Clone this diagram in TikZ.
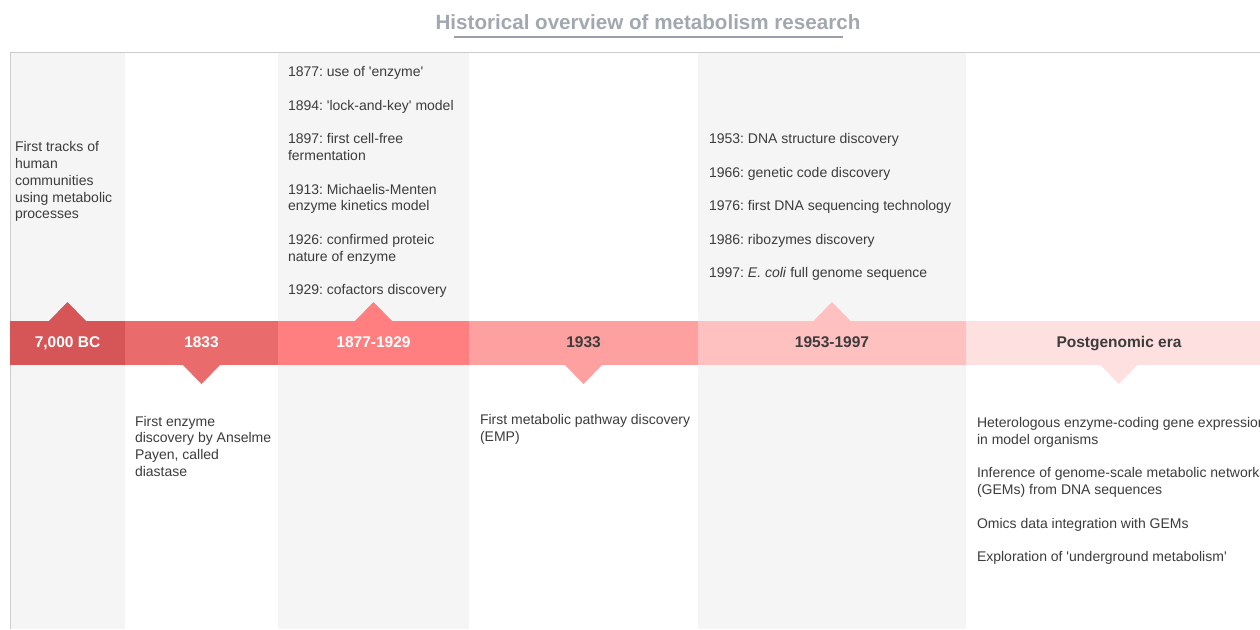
\documentclass[tikz,border=0pt]{standalone}
\usepackage{fontspec}
\setmainfont{Liberation Sans}
\usetikzlibrary{calc}
\frenchspacing
\definecolor{colgray}{HTML}{F5F5F5}
\definecolor{bordergray}{HTML}{CCCCCC}
\definecolor{bandA}{HTML}{D65557}
\definecolor{bandB}{HTML}{EA6B6B}
\definecolor{bandC}{HTML}{FF7F80}
\definecolor{bandD}{HTML}{FFA0A0}
\definecolor{bandE}{HTML}{FFC0C0}
\definecolor{bandF}{HTML}{FFE0E0}
\definecolor{txt}{HTML}{3C3C3C}
\definecolor{titlegray}{HTML}{A3A7B0}
\definecolor{ulgray}{HTML}{9A9EA9}
\newcommand{\sq}{\textquotesingle}
\begin{document}
\begin{tikzpicture}[x=1pt,y=-1pt,
  every node/.style={inner sep=0pt, outer sep=0pt},
  body/.style={anchor=base west, align=left, font=\frenchspacing\fontsize{14}{16.8}\selectfont, text=txt},
  band/.style={rectangle, minimum height=44pt, text height=11.5pt, text depth=3.5pt,
    font=\bfseries\fontsize{15.5}{18}\selectfont},
  light/.style={text=white},
  dark/.style={text=txt},
]
\useasboundingbox (0,0) rectangle (1260,629);
\clip (0,0) rectangle (1260,629);
\fill[white] (0,0) rectangle (1260,629);
% column backgrounds
\fill[colgray] (10,53) rectangle (125,629);
\fill[colgray] (278,53) rectangle (469,629);
\fill[colgray] (698,53) rectangle (966,629);
\draw[bordergray, line width=1pt] (10.5,629) -- (10.5,52.5) -- (1260,52.5);
% title
\node[anchor=base, font=\bfseries\fontsize{20.6}{24}\selectfont, text=titlegray] (title) at (648,29.5) {Historical overview of metabolism research};
\draw[ulgray, line width=2pt] ($(title.base west)+(18,7)$) -- ($(title.base east)+(-17,7)$);
% band
\node[band, light, fill=bandA, minimum width=115pt] (b1) at (67.5,343) {7,000 BC};
\node[band, light, fill=bandB, minimum width=153pt] (b2) at (201.5,343) {1833};
\node[band, light, fill=bandC, minimum width=191pt] (b3) at (373.5,343) {1877-1929};
\node[band, dark, fill=bandD, minimum width=229pt] (b4) at (583.5,343) {1933};
\node[band, dark, fill=bandE, minimum width=268pt] (b5) at (832,343) {1953-1997};
\node[band, dark, fill=bandF, minimum width=306pt] (b6) at (1119,343) {Postgenomic era};
% pointers
\fill[bandA] ($(b1.north)+(-19,0.5)$) -- ++(19,-19.5) -- ++(19,19.5) -- cycle;
\fill[bandB] ($(b2.south)+(-19,-0.5)$) -- ++(19,19.5) -- ++(19,-19.5) -- cycle;
\fill[bandC] ($(b3.north)+(-19,0.5)$) -- ++(19,-19.5) -- ++(19,19.5) -- cycle;
\fill[bandD] ($(b4.south)+(-19,-0.5)$) -- ++(19,19.5) -- ++(19,-19.5) -- cycle;
\fill[bandE] ($(b5.north)+(-19,0.5)$) -- ++(19,-19.5) -- ++(19,19.5) -- cycle;
\fill[bandF] ($(b6.south)+(-19,-0.5)$) -- ++(19,19.5) -- ++(19,-19.5) -- cycle;
% texts (anchored at the baseline of their last line)
\node[body] (t1) at (15,218.9) {First tracks of\\human\\communities\\using metabolic\\processes};
\node[body] (t3) at (288,294.9) {1877: use of \sq enzyme\sq\\[16.8pt]1894: \sq lock-and-key\sq{} model\\[16.8pt]1897: first cell-free\\fermentation\\[16.8pt]1913: Michaelis-Menten\\enzyme kinetics model\\[16.8pt]1926: confirmed proteic\\nature of enzyme\\[16.8pt]1929: cofactors discovery};
\node[body] (t5) at (709,277.9) {1953: DNA structure discovery\\[16.8pt]1966: genetic code discovery\\[16.8pt]1976: first DNA sequencing technology\\[16.8pt]1986: ribozymes discovery\\[16.8pt]1997: \textit{E. coli} full genome sequence};
\node[body] (t2) at (135,476.4) {First enzyme\\discovery by Anselme\\Payen, called\\diastase};
\node[body] (t4) at (480,441.3) {First metabolic pathway discovery\\(EMP)};
\node[body] (t6) at (977,561.9) {Heterologous enzyme-coding gene expression\\in model organisms\\[16.8pt]Inference of genome-scale metabolic networks\\(GEMs) from DNA sequences\\[16.8pt]Omics data integration with GEMs\\[16.8pt]Exploration of \sq underground metabolism\sq};
\end{tikzpicture}
\end{document}
